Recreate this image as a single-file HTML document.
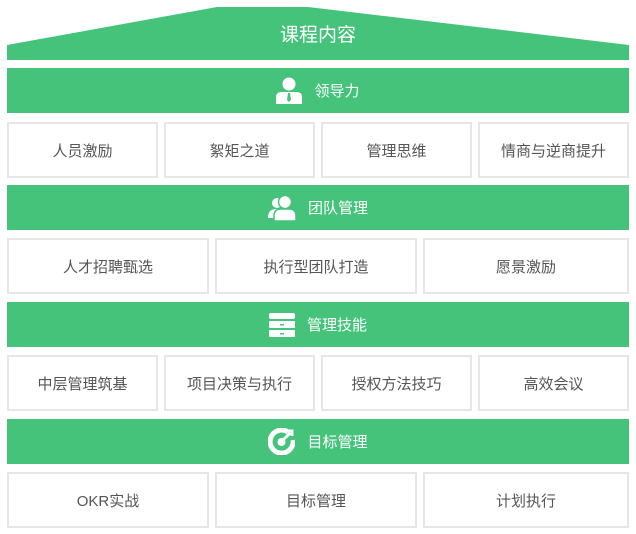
<!DOCTYPE html>
<html><head><meta charset="utf-8"><style>
body{margin:0;width:636px;height:534px;background:#fff;position:relative;font-family:"Liberation Sans","Noto Sans CJK SC",sans-serif;overflow:hidden}
.b{position:absolute;left:7px;width:622px;height:45px;background:#46c37b;color:#fff;font-size:15px;display:flex;align-items:center;justify-content:center}
.b svg{margin-right:12px}
.c{position:absolute;box-sizing:border-box;border:2px solid #e6e6e6;height:56px;display:flex;align-items:center;justify-content:center;color:#555;font-size:15px}
</style></head><body>
<svg style="position:absolute;left:0;top:0" width="636" height="62"><polygon points="7,45 217,7 308,7 629,45 629,60 7,60" fill="#46c37b"/><text x="318" y="41" text-anchor="middle" fill="#fff" font-size="19" font-family="Liberation Sans,Noto Sans CJK SC,sans-serif">课程内容</text></svg>

<div class="b" style="top:68px"><svg width="26" height="27" viewBox="0 0 26 27"><circle cx="13" cy="7" r="6.5" fill="#fff"/><path d="M0 27V20Q0 15 6 15H20Q26 15 26 20V27Z" fill="#fff"/><path d="M12 16h2l1 7-2 2-2-2z" fill="#46c37b"/></svg>领导力</div>
<div class="c" style="top:122px;left:7px;width:151px">人员激励</div>
<div class="c" style="top:122px;left:164px;width:151px">絮矩之道</div>
<div class="c" style="top:122px;left:321px;width:151px">管理思维</div>
<div class="c" style="top:122px;left:478px;width:151px">情商与逆商提升</div>

<div class="b" style="top:185px"><svg width="28" height="26" viewBox="0 0 28 26"><circle cx="9" cy="8" r="5" fill="#fff"/><path d="M0 23Q0 14 8 14H10Q12 14 12 20V23Z" fill="#fff"/><circle cx="17" cy="7" r="6.5" fill="#fff" stroke="#46c37b" stroke-width="1.5"/><path d="M6 26V21Q6 14 13 14H21Q28 14 28 21V26Z" fill="#fff" stroke="#46c37b" stroke-width="1.5"/></svg>团队管理</div>
<div class="c" style="top:238px;left:7px;width:202px">人才招聘甄选</div>
<div class="c" style="top:238px;left:215px;width:202px">执行型团队打造</div>
<div class="c" style="top:238px;left:423px;width:206px">愿景激励</div>

<div class="b" style="top:302px"><svg width="26" height="24" viewBox="0 0 26 24"><rect x="0" y="0" width="26" height="6" rx="2" fill="#fff"/><rect x="0" y="8" width="26" height="7" rx="1" fill="#fff"/><rect x="0" y="17" width="26" height="7" rx="1" fill="#fff"/><rect x="11" y="11" width="4" height="1.5" fill="#46c37b"/><rect x="11" y="20" width="4" height="1.5" fill="#46c37b"/></svg>管理技能</div>
<div class="c" style="top:355px;left:7px;width:151px">中层管理筑基</div>
<div class="c" style="top:355px;left:164px;width:151px">项目决策与执行</div>
<div class="c" style="top:355px;left:321px;width:151px">授权方法技巧</div>
<div class="c" style="top:355px;left:478px;width:151px">高效会议</div>

<div class="b" style="top:419px"><svg width="27" height="27" viewBox="0 0 27 27"><path d="M20 4A11.5 11.5 0 1 0 25 12" fill="none" stroke="#fff" stroke-width="5"/><circle cx="13.5" cy="14" r="4" fill="#fff"/><path d="M14 13L22 5M19 3h5v5" stroke="#fff" stroke-width="3" fill="none"/></svg>目标管理</div>
<div class="c" style="top:472px;left:7px;width:202px">OKR实战</div>
<div class="c" style="top:472px;left:215px;width:202px">目标管理</div>
<div class="c" style="top:472px;left:423px;width:206px">计划执行</div>
</body></html>
